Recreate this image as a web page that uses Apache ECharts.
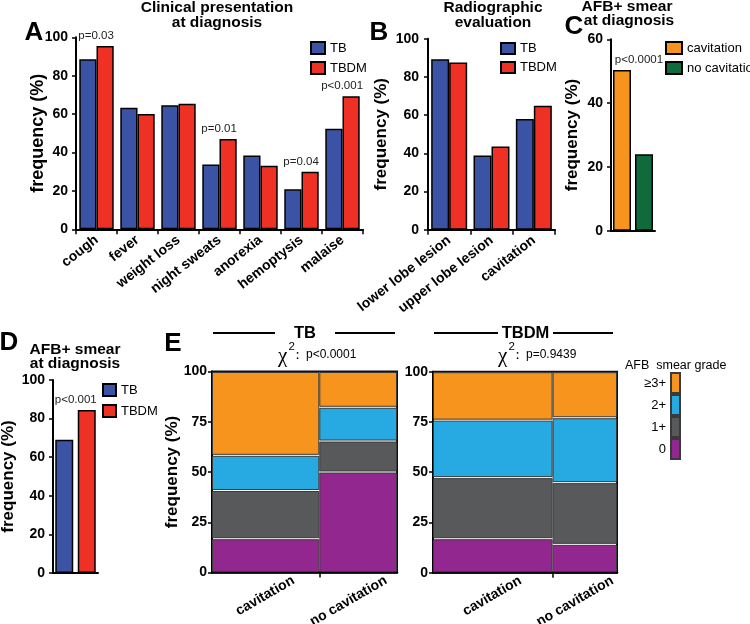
<!DOCTYPE html>
<html><head><meta charset="utf-8">
<script src="https://cdn.jsdelivr.net/npm/echarts@6/dist/echarts.min.js"></script>
<style>html,body{margin:0;padding:0;background:#fff}#c{width:750px;height:624px}</style>
</head><body><div id="c"></div>
<script>
// ---------- data ----------
const clinicalCategories = ['cough','fever','weight loss','night sweats','anorexia','hemoptysis','malaise'];
const clinicalTB   = [88.6, 63.3, 64.6, 33.8, 38.5, 20.8, 52.4];
const clinicalTBDM = [95.5, 60.0, 65.4, 47.0, 33.1, 30.0, 69.3];
const clinicalP    = ['p=0.03', null, null, 'p=0.01', null, 'p=0.04', 'p<0.001'];

const radioCategories = ['lower lobe lesion','upper lobe lesion','cavitation'];
const radioTB   = [89.2, 38.9, 58.0];
const radioTBDM = [87.6, 43.5, 64.9];

const smearCavCategories = ['cavitation','no cavitation'];
const smearCavValues = [50.4, 24.0];
const smearCavP = 'p<0.0001';

const smearGroupCategories = ['TB','TBDM'];
const smearGroupValues = [69.0, 84.5];
const smearGroupP = 'p<0.001';

const mosaicGroups = ['TB','TBDM'];
const mosaicColumns = ['cavitation','no cavitation'];
const mosaicCavShare = [58, 65];            // width share of the cavitation column (%)
const mosaicGrades = ['0','1+','2+','≥3+'];
const mosaicTBcav     = [16.8, 24.0, 17.5, 41.7];
const mosaicTBnocav   = [50.0, 15.4, 16.8, 17.8];
const mosaicTBDMcav   = [16.9, 30.4, 28.6, 24.1];
const mosaicTBDMnocav = [14.1, 30.7, 32.3, 22.9];
const mosaicP = ['p<0.0001', 'p=0.9439'];

// ---------- styles ----------
const FONT = '"Liberation Sans", Arial, Helvetica, sans-serif';
const BLACK = '#000';
const cTB = '#3A53A4', cTBDM = '#EE3124', cCav = '#F7941D', cNoCav = '#0F6B3B';
const gradeColors = ['#92278F', '#58595B', '#27AAE1', '#F7941D'];

const chart = echarts.init(document.getElementById('c'), null, {renderer: 'canvas'});

function yAxis(gridIndex, max, interval, nameGap, nameSize, margin, withName) {
  return {
    type: 'value', gridIndex, min: 0, max, interval,
    name: withName === false ? '' : 'frequency (%)', nameLocation: 'middle', nameGap,
    nameMoveOverlap: false,
    nameTextStyle: {fontFamily: FONT, fontWeight: 'bold', fontSize: nameSize, color: BLACK},
    axisLine: {show: true, lineStyle: {color: BLACK, width: 2}},
    axisTick: {show: true, length: 4, lineStyle: {color: BLACK, width: 1.5}},
    axisLabel: {color: BLACK, fontFamily: FONT, fontWeight: 'bold', fontSize: 14, margin},
    splitLine: {show: false}
  };
}
function catAxis(gridIndex, data, showLabels, rotate) {
  return {
    type: 'category', gridIndex, data,
    axisLine: {show: true, lineStyle: {color: BLACK, width: 2}},
    axisTick: {show: showLabels, length: 5, lineStyle: {color: BLACK, width: 1.5}},
    axisLabel: {show: showLabels, interval: 0, rotate: rotate || 0, margin: 9,
      color: BLACK, fontFamily: FONT, fontWeight: 'bold', fontSize: 14}
  };
}
function mosaicXAxis(gridIndex, share) {
  const labelVals = [share / 2 + 15, (share + 100) / 2 + 15];
  return {
    type: 'value', gridIndex, min: 0, max: 100,
    axisLine: {show: true, lineStyle: {color: BLACK, width: 2.5}},
    axisTick: {show: true, length: 5, customValues: [share], lineStyle: {color: BLACK, width: 1.5}},
    axisLabel: {show: true, customValues: labelVals, rotate: 30, margin: 7,
      formatter: v => (v < share ? mosaicColumns[0] : mosaicColumns[1]),
      color: BLACK, fontFamily: FONT, fontWeight: 'bold', fontSize: 14},
    splitLine: {show: false}
  };
}

const barStyle = c => ({color: c, borderColor: BLACK, borderWidth: 1.5});
const pLabel = (text, dx) => ({show: true, position: 'top', distance: 4, offset: [dx, 0],
  formatter: text, color: '#222', fontFamily: FONT, fontSize: 11.5});

function cum(arr, k) { let s = 0; for (let i = 0; i < k; i++) s += arr[i]; return s; }
function mosaicData(gi, cav, nocav, g) {
  const share = mosaicCavShare[gi];
  return [[0, share, cum(cav, g), cum(cav, g + 1)],
          [share, 100, cum(nocav, g), cum(nocav, g + 1)]];
}
function renderCell(params, api) {
  const a = api.coord([api.value(0), api.value(3)]);
  const b = api.coord([api.value(1), api.value(2)]);
  return {type: 'rect',
    shape: {x: a[0] + 0.5, y: a[1] + 1, width: b[0] - a[0] - 1, height: b[1] - a[1] - 2},
    style: {fill: api.visual('color'), stroke: '#3a3a3a', lineWidth: 1}};
}

const series = [];
// A
series.push({type: 'bar', name: 'TB', xAxisIndex: 0, yAxisIndex: 0, data: clinicalTB,
  itemStyle: barStyle(cTB), barGap: '0%', barCategoryGap: '16%'});
series.push({type: 'bar', name: 'TBDM', xAxisIndex: 0, yAxisIndex: 0,
  data: clinicalTBDM.map((v, i) => clinicalP[i] ? {value: v, label: pLabel(clinicalP[i], -9)} : v),
  itemStyle: barStyle(cTBDM), barGap: '0%', barCategoryGap: '16%'});
// B
series.push({type: 'bar', name: 'TB', xAxisIndex: 1, yAxisIndex: 1, data: radioTB,
  itemStyle: barStyle(cTB), barGap: '0%', barCategoryGap: '15%'});
series.push({type: 'bar', name: 'TBDM', xAxisIndex: 1, yAxisIndex: 1, data: radioTBDM,
  itemStyle: barStyle(cTBDM), barGap: '0%', barCategoryGap: '15%'});
// C
series.push({type: 'bar', name: smearCavCategories[0], xAxisIndex: 2, yAxisIndex: 2,
  data: [{value: smearCavValues[0], label: pLabel(smearCavP, 17)}, '-'],
  itemStyle: barStyle(cCav), barWidth: 18, barGap: '-100%'});
series.push({type: 'bar', name: smearCavCategories[1], xAxisIndex: 2, yAxisIndex: 2,
  data: ['-', smearCavValues[1]],
  itemStyle: barStyle(cNoCav), barWidth: 18, barGap: '-100%'});
// D
series.push({type: 'bar', name: smearGroupCategories[0], xAxisIndex: 3, yAxisIndex: 3,
  data: [smearGroupValues[0], '-'], itemStyle: barStyle(cTB), barWidth: 18, barGap: '-100%'});
series.push({type: 'bar', name: smearGroupCategories[1], xAxisIndex: 3, yAxisIndex: 3,
  data: ['-', {value: smearGroupValues[1], label: pLabel(smearGroupP, -11)}],
  itemStyle: barStyle(cTBDM), barWidth: 18, barGap: '-100%'});
// E mosaics
const mosaicSets = [[mosaicTBcav, mosaicTBnocav], [mosaicTBDMcav, mosaicTBDMnocav]];
for (let gi = 0; gi < 2; gi++) {
  for (let g = 0; g < mosaicGrades.length; g++) {
    series.push({type: 'custom', name: mosaicGrades[g], xAxisIndex: 4 + gi, yAxisIndex: 4 + gi,
      renderItem: renderCell, encode: {x: [0, 1], y: [2, 3]}, silent: true,
      data: mosaicData(gi, mosaicSets[gi][0], mosaicSets[gi][1], g),
      itemStyle: {color: gradeColors[g], borderColor: '#3a3a3a', borderWidth: 1}});
  }
}

const legendBase = {orient: 'vertical', icon: 'rect', selectedMode: false, padding: 0,
  textStyle: {fontFamily: FONT, fontSize: 13, color: BLACK}};

// ---------- graphics (titles, letters, headers) ----------
function txt(x, y, text, size, weight, align, family, color) {
  return {type: 'text', x, y, silent: true,
    style: {text, fill: color || BLACK, fontSize: size, fontWeight: weight || 'normal',
      fontFamily: family || FONT, align: align || 'center', verticalAlign: 'middle',
      textAlign: align || 'center', textVerticalAlign: 'middle'}};
}
function hline(x1, x2, y) {
  return {type: 'line', silent: true, shape: {x1, y1: y, x2, y2: y}, style: {stroke: BLACK, lineWidth: 2}};
}
function chi(x, y, p) {
  return [
    txt(x, y + 1, 'χ', 21, 'normal', 'left', '"Liberation Serif", "DejaVu Serif", serif'),
    txt(x + 10.5, y - 8.5, '2', 11.5, 'normal', 'left'),
    txt(x + 17.5, y, ':', 15, 'normal', 'left', '"Liberation Serif", serif'),
    txt(x + 28, y, p, 12, 'normal', 'left')
  ];
}

const graphic = [
  txt(217, 8, 'Clinical presentation', 15.5, 'bold'), txt(217, 22.5, 'at diagnosis', 15.5, 'bold'),
  txt(493, 8, 'Radiographic', 15.5, 'bold'), txt(493, 22.5, 'evaluation', 15.5, 'bold'),
  txt(627, 7, 'AFB+ smear', 15.5, 'bold'), txt(629, 21, 'at diagnosis', 15.5, 'bold'),
  txt(75, 349.5, 'AFB+ smear', 15.5, 'bold'), txt(75, 364, 'at diagnosis', 15.5, 'bold'),
  txt(34, 33, 'A', 26, 'bold'), txt(379, 33, 'B', 26, 'bold'), txt(574, 27, 'C', 26, 'bold'),
  txt(9, 343, 'D', 26, 'bold'), txt(173, 344, 'E', 26, 'bold'),
  hline(213, 275, 333), hline(335, 395, 333), txt(305, 333, mosaicGroups[0], 16.5, 'bold'),
  hline(434, 498, 333), hline(553, 613, 333), txt(525.5, 333, mosaicGroups[1], 16.5, 'bold'),
  ...chi(278, 355, mosaicP[0]),
  ...chi(498, 355, mosaicP[1]),
  txt(625, 366, 'AFB  smear grade', 12.5, 'normal', 'left')
];

const gridBase = {outerBoundsMode: 'none', containLabel: false};
const option = {
  animation: false,
  backgroundColor: '#fff',
  grid: [
    Object.assign({left: 76, top: 37.3, width: 287, height: 192}, gridBase),
    Object.assign({left: 428, top: 38.7, width: 127, height: 191}, gridBase),
    Object.assign({left: 611, top: 39.3, width: 44, height: 191.5}, gridBase),
    Object.assign({left: 53, top: 380, width: 45, height: 193}, gridBase),
    Object.assign({left: 212, top: 371.5, width: 185, height: 201, show: true, borderColor: '#111', borderWidth: 2}, gridBase),
    Object.assign({left: 433, top: 371.7, width: 184, height: 201, show: true, borderColor: '#111', borderWidth: 2}, gridBase)
  ],
  xAxis: [
    catAxis(0, clinicalCategories, true, 38),
    catAxis(1, radioCategories, true, 38),
    catAxis(2, smearCavCategories, false),
    catAxis(3, smearGroupCategories, false),
    mosaicXAxis(4, mosaicCavShare[0]),
    mosaicXAxis(5, mosaicCavShare[1])
  ],
  yAxis: [
    yAxis(0, 100, 20, 29, 18, 8),
    yAxis(1, 100, 20, 38, 17, 9),
    yAxis(2, 60, 20, 30.5, 17, 8),
    yAxis(3, 100, 20, 36.5, 17, 8),
    yAxis(4, 100, 25, 31, 17, 5),
    yAxis(5, 100, 25, 31, 17, 5, false)
  ],
  legend: [
    Object.assign({left: 310, top: 41, itemWidth: 14, itemHeight: 12, itemGap: 6, data: ['TB', 'TBDM']}, legendBase),
    Object.assign({left: 500, top: 42, itemWidth: 14, itemHeight: 11, itemGap: 6, data: ['TB', 'TBDM']}, legendBase),
    Object.assign({left: 665, top: 41, itemWidth: 16, itemHeight: 12, itemGap: 6, data: smearCavCategories}, legendBase),
    Object.assign({left: 102, top: 383, itemWidth: 13, itemHeight: 12, itemGap: 7, data: ['TB', 'TBDM']}, legendBase),
    Object.assign({right: 69, top: 372, itemWidth: 9, itemHeight: 20, itemGap: 0, align: 'right',
      data: mosaicGrades.slice().reverse()}, legendBase)
  ],
  graphic,
  series
};
chart.setOption(option);
</script>
</body></html>
